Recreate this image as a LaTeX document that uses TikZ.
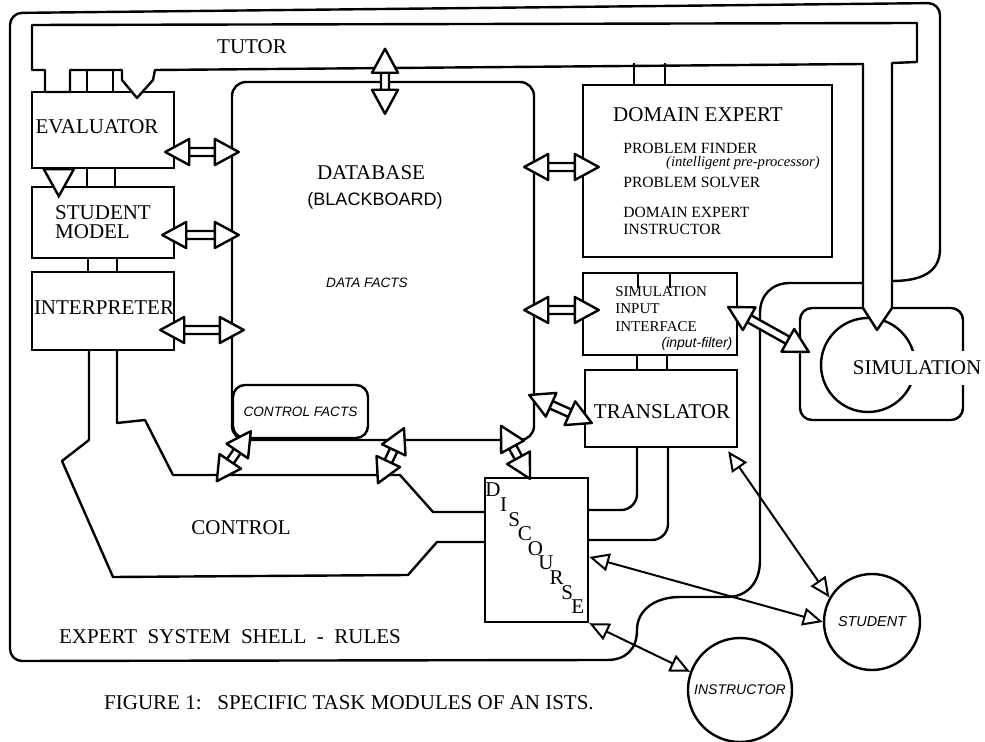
\documentclass[tikz,border=0pt]{standalone}
\usepackage{fontspec}
\setmainfont{Liberation Serif}
\setsansfont{Liberation Sans}
\usetikzlibrary{arrows.meta,calc}

% hollow double arrow: head length, head half width, shaft half width
\newcommand{\fahead}{12pt}
\newcommand{\fawide}{6.5pt}
\newcommand{\fashaft}{2pt}
\newcommand{\fatarrow}[2]{%
  \coordinate (fa1) at (#1);
  \coordinate (fa2) at (#2);
  \coordinate (fa1l) at ($(fa1)!\fahead!(fa2)!\fawide!90:(fa2)$);
  \coordinate (fa1r) at ($(fa1)!\fahead!(fa2)!\fawide!-90:(fa2)$);
  \coordinate (fa1sl) at ($(fa1)!\fahead!(fa2)!\fashaft!90:(fa2)$);
  \coordinate (fa1sr) at ($(fa1)!\fahead!(fa2)!\fashaft!-90:(fa2)$);
  \coordinate (fa2l) at ($(fa2)!\fahead!(fa1)!\fawide!-90:(fa1)$);
  \coordinate (fa2r) at ($(fa2)!\fahead!(fa1)!\fawide!90:(fa1)$);
  \coordinate (fa2sl) at ($(fa2)!\fahead!(fa1)!\fashaft!-90:(fa1)$);
  \coordinate (fa2sr) at ($(fa2)!\fahead!(fa1)!\fashaft!90:(fa1)$);
  \fill[white] (fa1) -- (fa1l) -- (fa1sl) -- (fa2sl) -- (fa2l) -- (fa2) -- (fa2r) -- (fa2sr) -- (fa1sr) -- (fa1r) -- cycle;
  \draw[fatline] (fa1) -- (fa1l) -- (fa1r) -- cycle (fa2) -- (fa2l) -- (fa2r) -- cycle
    (fa1sl) -- (fa2sl) (fa1sr) -- (fa2sr);
}

\begin{document}
\begin{tikzpicture}[x=0.5pt, y=-0.5pt,
    wire/.style={line width=1.2pt},
    fatline/.style={line width=1.2pt, line join=round},
    box/.style={draw, line width=1.2pt, inner sep=0pt},
    lab/.style={font=\fontsize{10.5}{10}\selectfont, inner sep=1pt},
    small/.style={font=\fontsize{7.8}{8.5}\selectfont, inner sep=0pt},
    smallit/.style={font=\fontsize{7.3}{8}\selectfont\itshape, inner sep=0pt},
    sansit/.style={font=\fontsize{7}{8}\selectfont\sffamily\itshape, inner sep=0pt},
    thinarrow/.style={line width=1pt, {Triangle[open, length=10pt, width=9pt]}-{Triangle[open, length=10pt, width=9pt]}}
]
\useasboundingbox (0,0) rectangle (985,742);

% Expert system shell
\draw[wire, rounded corners=6pt] (607,660) -- (10,661) -- (10,13) -- (940,3) -- (940,250);
\draw[wire] (940,249) .. controls (940,273) and (920,281) .. (892,281);
\draw[wire] (863,283) -- (790,283) .. controls (772,283) and (760,295) .. (760,313)
  -- (760,560) .. controls (760,585) and (745,597) .. (727,597)
  -- (680,597) .. controls (655,597) and (637,610) .. (637,630)
  .. controls (637,650) and (625,660) .. (607,660);

% Modules
\node[box, minimum width=71pt, minimum height=38pt] (eval) at (103,130) {};
\node[lab] (evallab) at (97,127) {EVALUATOR};
\node[box, minimum width=71pt, minimum height=35.5pt, align=left, font=\fontsize{10.5}{9.5}\selectfont] (smodel) at (103,222.5) {STUDENT\\MODEL};
\node[box, minimum width=71pt, minimum height=39pt] (interp) at (103,311) {};
\node[lab] (interplab) at (104,308) {INTERPRETER};
\node[box, rounded corners=7pt, minimum width=151pt, minimum height=179pt] (db) at (383,261) {};
\node[box, rounded corners=6pt, fill=white, minimum width=67.5pt, minimum height=26.5pt, font=\fontsize{6.8}{8}\selectfont\sffamily\itshape] (cfacts) at (300.5,411.5) {CONTROL FACTS};
\node[box, minimum width=124.5pt, minimum height=86pt] (domexp) at (707.5,171) {};
\node[box, minimum width=77pt, minimum height=41pt] (simin) at (660,314) {};
\node[box, minimum width=76pt, minimum height=38.5pt] (trans) at (661,408.5) {};
\node[lab] (translab) at (662,412) {TRANSLATOR};
\node[box, minimum width=51.5pt, minimum height=72pt] (disc) at (536.5,550) {};
\node[box, rounded corners=6pt, minimum width=81.5pt, minimum height=56pt] (sim) at (881.5,364) {};
\node[box, circle, minimum size=47pt] (simcirc) at (868,365) {};
\node[box, circle, minimum size=48pt, font=\fontsize{7.2}{8}\selectfont\sffamily\itshape] (student) at (872,622) {STUDENT};
\node[box, circle, minimum size=52pt, font=\fontsize{7}{8}\selectfont\sffamily\itshape] (instr) at (740,690) {INSTRUCTOR};

% Tutor
\draw[wire, fill=white, line join=round] (32,25) -- (917,23) -- (917,62) -- (892,63) -- (892,308)
  -- (877,330) -- (863,308) -- (863,64) -- (155,70) -- (153,80) -- (137,98) -- (122,80)
  -- (122,70) -- (70,70) -- (70,92) -- (45,92) -- (45,70) -- (32,70) -- cycle;
\node[lab] (tutorlab) at (252,47) {TUTOR};

% Channels between modules
\foreach \dx in {-16,10} \draw[wire] ($(eval.north)+(\dx,-22)$) -- ($(eval.north)+(\dx,0)$);
\foreach \dx in {-16,12} \draw[wire] ($(eval.south)+(\dx,0)$) -- ($(smodel.north)+(\dx,0)$);
\foreach \dx in {-15,14} \draw[wire] ($(smodel.south)+(\dx,0)$) -- ($(interp.north)+(\dx,0)$);
\foreach \dx in {-73.5,-42.5} \draw[wire] ($(domexp.north)+(\dx,-21)$) -- ($(domexp.north)+(\dx,0)$);
\foreach \dx in {-22,10} \draw[wire] ($(domexp.south |- simin.north)+(\dx-47.5,16)$) -- ($(simin.north)+(\dx,0)$);
\foreach \dx in {-23,7} \draw[wire] ($(simin.south)+(\dx,0)$) -- ($(trans.north)+(\dx-1,0)$);
\draw[wire, fill=white] (eval.south west) ++(13,0) -- ++(30,0) -- ++(-15,27) -- cycle;

% Translator to discourse
\draw[wire, rounded corners=8pt] ($(trans.south)+(-24,0)$) |- ($(disc.east)+(0,-40)$);
\draw[wire, rounded corners=8pt] ($(trans.south)+(7,0)$) |- ($(disc.east)+(0,-10)$);

% Control
\draw[wire, line join=round] ($(interp.south)+(-14,0)$) -- (89,440) -- (62,461) -- (113,577)
  -- (408,575) -- (437,542) -- ($(disc.west)+(0,-8)$);
\draw[wire, line join=round] ($(interp.south)+(14,0)$) -- (117,423) -- (145,420) -- (173,475)
  -- (400,475) -- (433,512) -- ($(disc.west)+(0,-38)$);

% Labels
\node[lab] (dbname) at (371,173) {DATABASE};
\node[font=\fontsize{9}{10}\selectfont\sffamily, inner sep=0pt] (dbsub) at (375,201) {(BLACKBOARD)};
\node[sansit, font=\fontsize{6.8}{8}\selectfont\sffamily\itshape] (dfacts) at (367,283) {DATA FACTS};
\node[lab] (domlab) at (698,115) {DOMAIN EXPERT};
\node[small, anchor=west] (pfind) at (623,148) {PROBLEM FINDER};
\node[smallit, anchor=east] (ipp) at (820,163) {(intelligent pre-processor)};
\node[small, anchor=west] (psolve) at (623,182) {PROBLEM SOLVER};
\node[small, anchor=west, align=left] (deinst) at (623,221) {DOMAIN EXPERT\\INSTRUCTOR};
\node[small, anchor=west, align=left, font=\fontsize{7.5}{8.6}\selectfont] (siminlab) at (615,309) {SIMULATION\\INPUT\\INTERFACE};
\node[sansit] (ifilter) at (697,344) {(input-filter)};
\node[lab, fill=white, minimum height=17pt, inner sep=1pt] (simlab) at (917,368) {SIMULATION};
\node[lab] (ctrllab) at (241,528) {CONTROL};
\node[lab] (shelllab) at (230,637) {EXPERT\ \ SYSTEM\ \ SHELL\ \ -\ \ RULES};
\node[lab] (caption) at (349,703) {FIGURE 1:\ \ \ SPECIFIC TASK MODULES OF AN ISTS.};
\foreach \ch [count=\i from 0] in {D,I,S,C,O,U,R,S,E}
  \node[lab, inner sep=0pt] (dl\i) at (493+10.6*\i, 490+14.6*\i) {\ch};

% Hollow double arrows
\fatarrow{$(db.north)+(2,-32)$}{$(db.north)+(2,33)$}
\fatarrow{$(eval.east)+(-10,22)$}{$(db.west |- eval.east)+(8,22)$}
\fatarrow{$(smodel.east)+(-13,12.5)$}{$(db.west |- smodel.east)+(8,12.5)$}
\fatarrow{$(interp.east)+(-15,19)$}{$(db.west |- interp.east)+(13,19)$}
\fatarrow{$(db.east |- domexp.west)+(-11,-4)$}{$(domexp.west)+(17,-4)$}
\fatarrow{$(db.east |- simin.west)+(-11,-4)$}{$(simin.west)+(17,-4)$}
\fatarrow{$(db.east |- trans.west)+(-6,-13.5)$}{$(trans.west)+(8,14.5)$}
\fatarrow{$(cfacts.south west)+(-15,42)$}{$(cfacts.south west)+(19,-8)$}
\fatarrow{$(db.south)+(-5,42)$}{$(db.south)+(21,-13)$}
\fatarrow{$(disc.north)+(-6.5,2)$}{$(disc.north)+(-35.5,-51)$}
\fatarrow{$(simin.east)+(-10,-7)$}{$(sim.west)+(10,-12)$}

% Thin arrows to the users
\draw[thinarrow] ($(trans.south east)+(-10,3)$) -- (student.150);
\draw[thinarrow] ($(disc.east)+(0,7)$) -- (student.180);
\draw[thinarrow] (disc.south east) -- (instr.160);

\end{tikzpicture}
\end{document}
